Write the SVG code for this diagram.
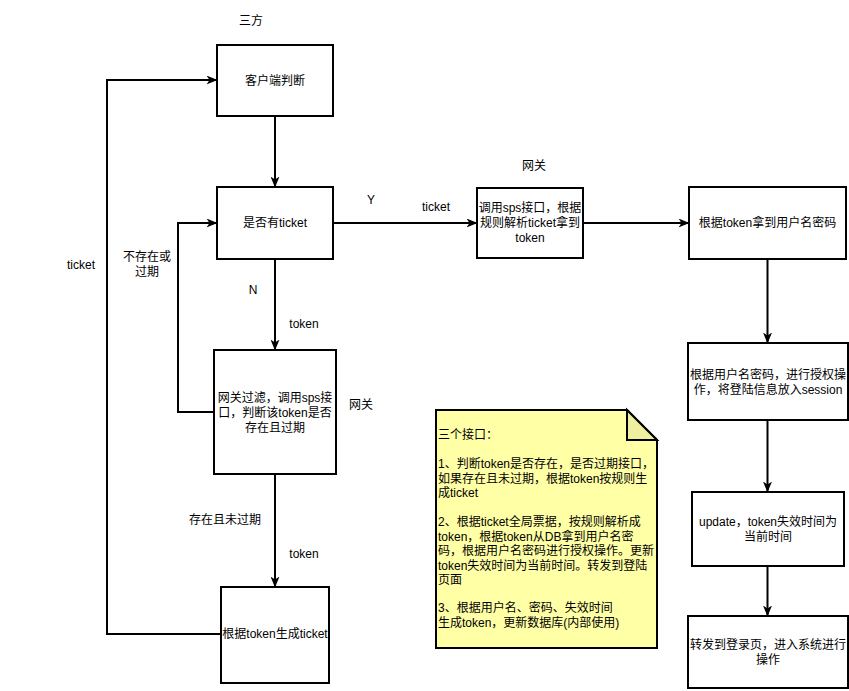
<svg xmlns="http://www.w3.org/2000/svg" width="849" height="691" viewBox="0 0 849 691">
<style>
.box{fill:#ffffff;stroke:#000000;stroke-width:2}
.t{font-family:"Liberation Sans","Noto Sans CJK SC",Arial,sans-serif;font-size:12px;fill:#000000}
.c{text-anchor:middle;dominant-baseline:central}
.l{text-anchor:start;dominant-baseline:central}
.edge{fill:none;stroke:#000000;stroke-width:2}
</style>
<defs>
<marker id="arr" viewBox="0 0 11 9" refX="10.5" refY="4.5" markerWidth="11" markerHeight="9" markerUnits="userSpaceOnUse" orient="auto">
<path d="M0,0 L11,4.5 L0,9 L3,4.5 Z" fill="#000000"/>
</marker>
</defs>
<rect width="849" height="691" fill="#ffffff"/>

<g id="connectors">
<path class="edge" d="M275,116 V187" marker-end="url(#arr)"/>
<path class="edge" d="M333,223 H477" marker-end="url(#arr)"/>
<path class="edge" d="M583,223 H689" marker-end="url(#arr)"/>
<path class="edge" d="M767.5,259 V343" marker-end="url(#arr)"/>
<path class="edge" d="M767.5,420 V492" marker-end="url(#arr)"/>
<path class="edge" d="M767.5,566 V616" marker-end="url(#arr)"/>
<path class="edge" d="M275,259 V350" marker-end="url(#arr)"/>
<path class="edge" d="M275,474 V587" marker-end="url(#arr)"/>
<path class="edge" d="M214,412 H178 V223 H217" marker-end="url(#arr)"/>
<path class="edge" d="M221,634 H107 V80 H217" marker-end="url(#arr)"/>
</g>

<g id="labels">
<text class="t c" x="251" y="21">三方</text>
<text class="t c" x="371" y="200">Y</text>
<text class="t c" x="436" y="207">ticket</text>
<text class="t c" x="534" y="166">网关</text>
<text class="t c" x="253" y="290">N</text>
<text class="t c" x="304" y="324">token</text>
<text class="t c" x="147" y="257">不存在或</text>
<text class="t c" x="147" y="272">过期</text>
<text class="t c" x="81" y="265">ticket</text>
<text class="t c" x="361" y="405">网关</text>
<text class="t c" x="225" y="520">存在且未过期</text>
<text class="t c" x="304" y="554">token</text>
</g>

<g id="node-client">
<rect class="box" x="217" y="45" width="116" height="71"/>
<text class="t c" x="275" y="81">客户端判断</text>
</g>

<g id="node-hasticket">
<rect class="box" x="217" y="187" width="116" height="72"/>
<text class="t c" x="275" y="223">是否有ticket</text>
</g>

<g id="node-gatewayfilter">
<rect class="box" x="214" y="350" width="122" height="124"/>
<text class="t c" x="275" y="398">网关过滤，调用sps接</text>
<text class="t c" x="275" y="413">口，判断该token是否</text>
<text class="t c" x="275" y="428">存在且过期</text>
</g>

<g id="node-genticket">
<rect class="box" x="221" y="587" width="108" height="96"/>
<text class="t c" x="275" y="634">根据token生成ticket</text>
</g>

<g id="node-parse">
<rect class="box" x="477" y="188" width="106" height="70"/>
<text class="t c" x="530" y="208">调用sps接口，根据</text>
<text class="t c" x="530" y="223">规则解析ticket拿到</text>
<text class="t c" x="530" y="238">token</text>
</g>

<g id="node-getuser">
<rect class="box" x="689" y="187" width="157" height="72"/>
<text class="t c" x="767.5" y="223">根据token拿到用户名密码</text>
</g>

<g id="node-auth">
<rect class="box" x="688" y="343" width="160" height="77"/>
<text class="t c" x="768" y="374.5">根据用户名密码，进行授权操</text>
<text class="t c" x="768" y="389.5">作，将登陆信息放入session</text>
</g>

<g id="node-update">
<rect class="box" x="692" y="492" width="152" height="74"/>
<text class="t c" x="768" y="521.5">update，token失效时间为</text>
<text class="t c" x="768" y="536.5">当前时间</text>
</g>

<g id="node-forward">
<rect class="box" x="688" y="616" width="160" height="72"/>
<text class="t c" x="768" y="645">转发到登录页，进入系统进行</text>
<text class="t c" x="768" y="660">操作</text>
</g>

<g id="note">
<path d="M436,410 H627 L657,440 V648 H436 Z" fill="#ffffa6" stroke="#000000" stroke-width="2"/>
<path d="M627,410 V440 H657 Z" fill="#efefa0" stroke="#000000" stroke-width="2" stroke-linejoin="miter"/>
<text class="t l" x="438" y="435">三个接口：</text>
<text class="t l" x="438" y="464">1、判断token是否存在，是否过期接口，</text>
<text class="t l" x="438" y="479">如果存在且未过期，根据token按规则生</text>
<text class="t l" x="438" y="493">成ticket</text>
<text class="t l" x="438" y="522">2、根据ticket全局票据，按规则解析成</text>
<text class="t l" x="438" y="537">token，根据token从DB拿到用户名密</text>
<text class="t l" x="438" y="551">码，根据用户名密码进行授权操作。更新</text>
<text class="t l" x="438" y="566">token失效时间为当前时间。转发到登陆</text>
<text class="t l" x="438" y="580">页面</text>
<text class="t l" x="438" y="608">3、根据用户名、密码、失效时间</text>
<text class="t l" x="438" y="623">生成token，更新数据库(内部使用)</text>
</g>
</svg>
